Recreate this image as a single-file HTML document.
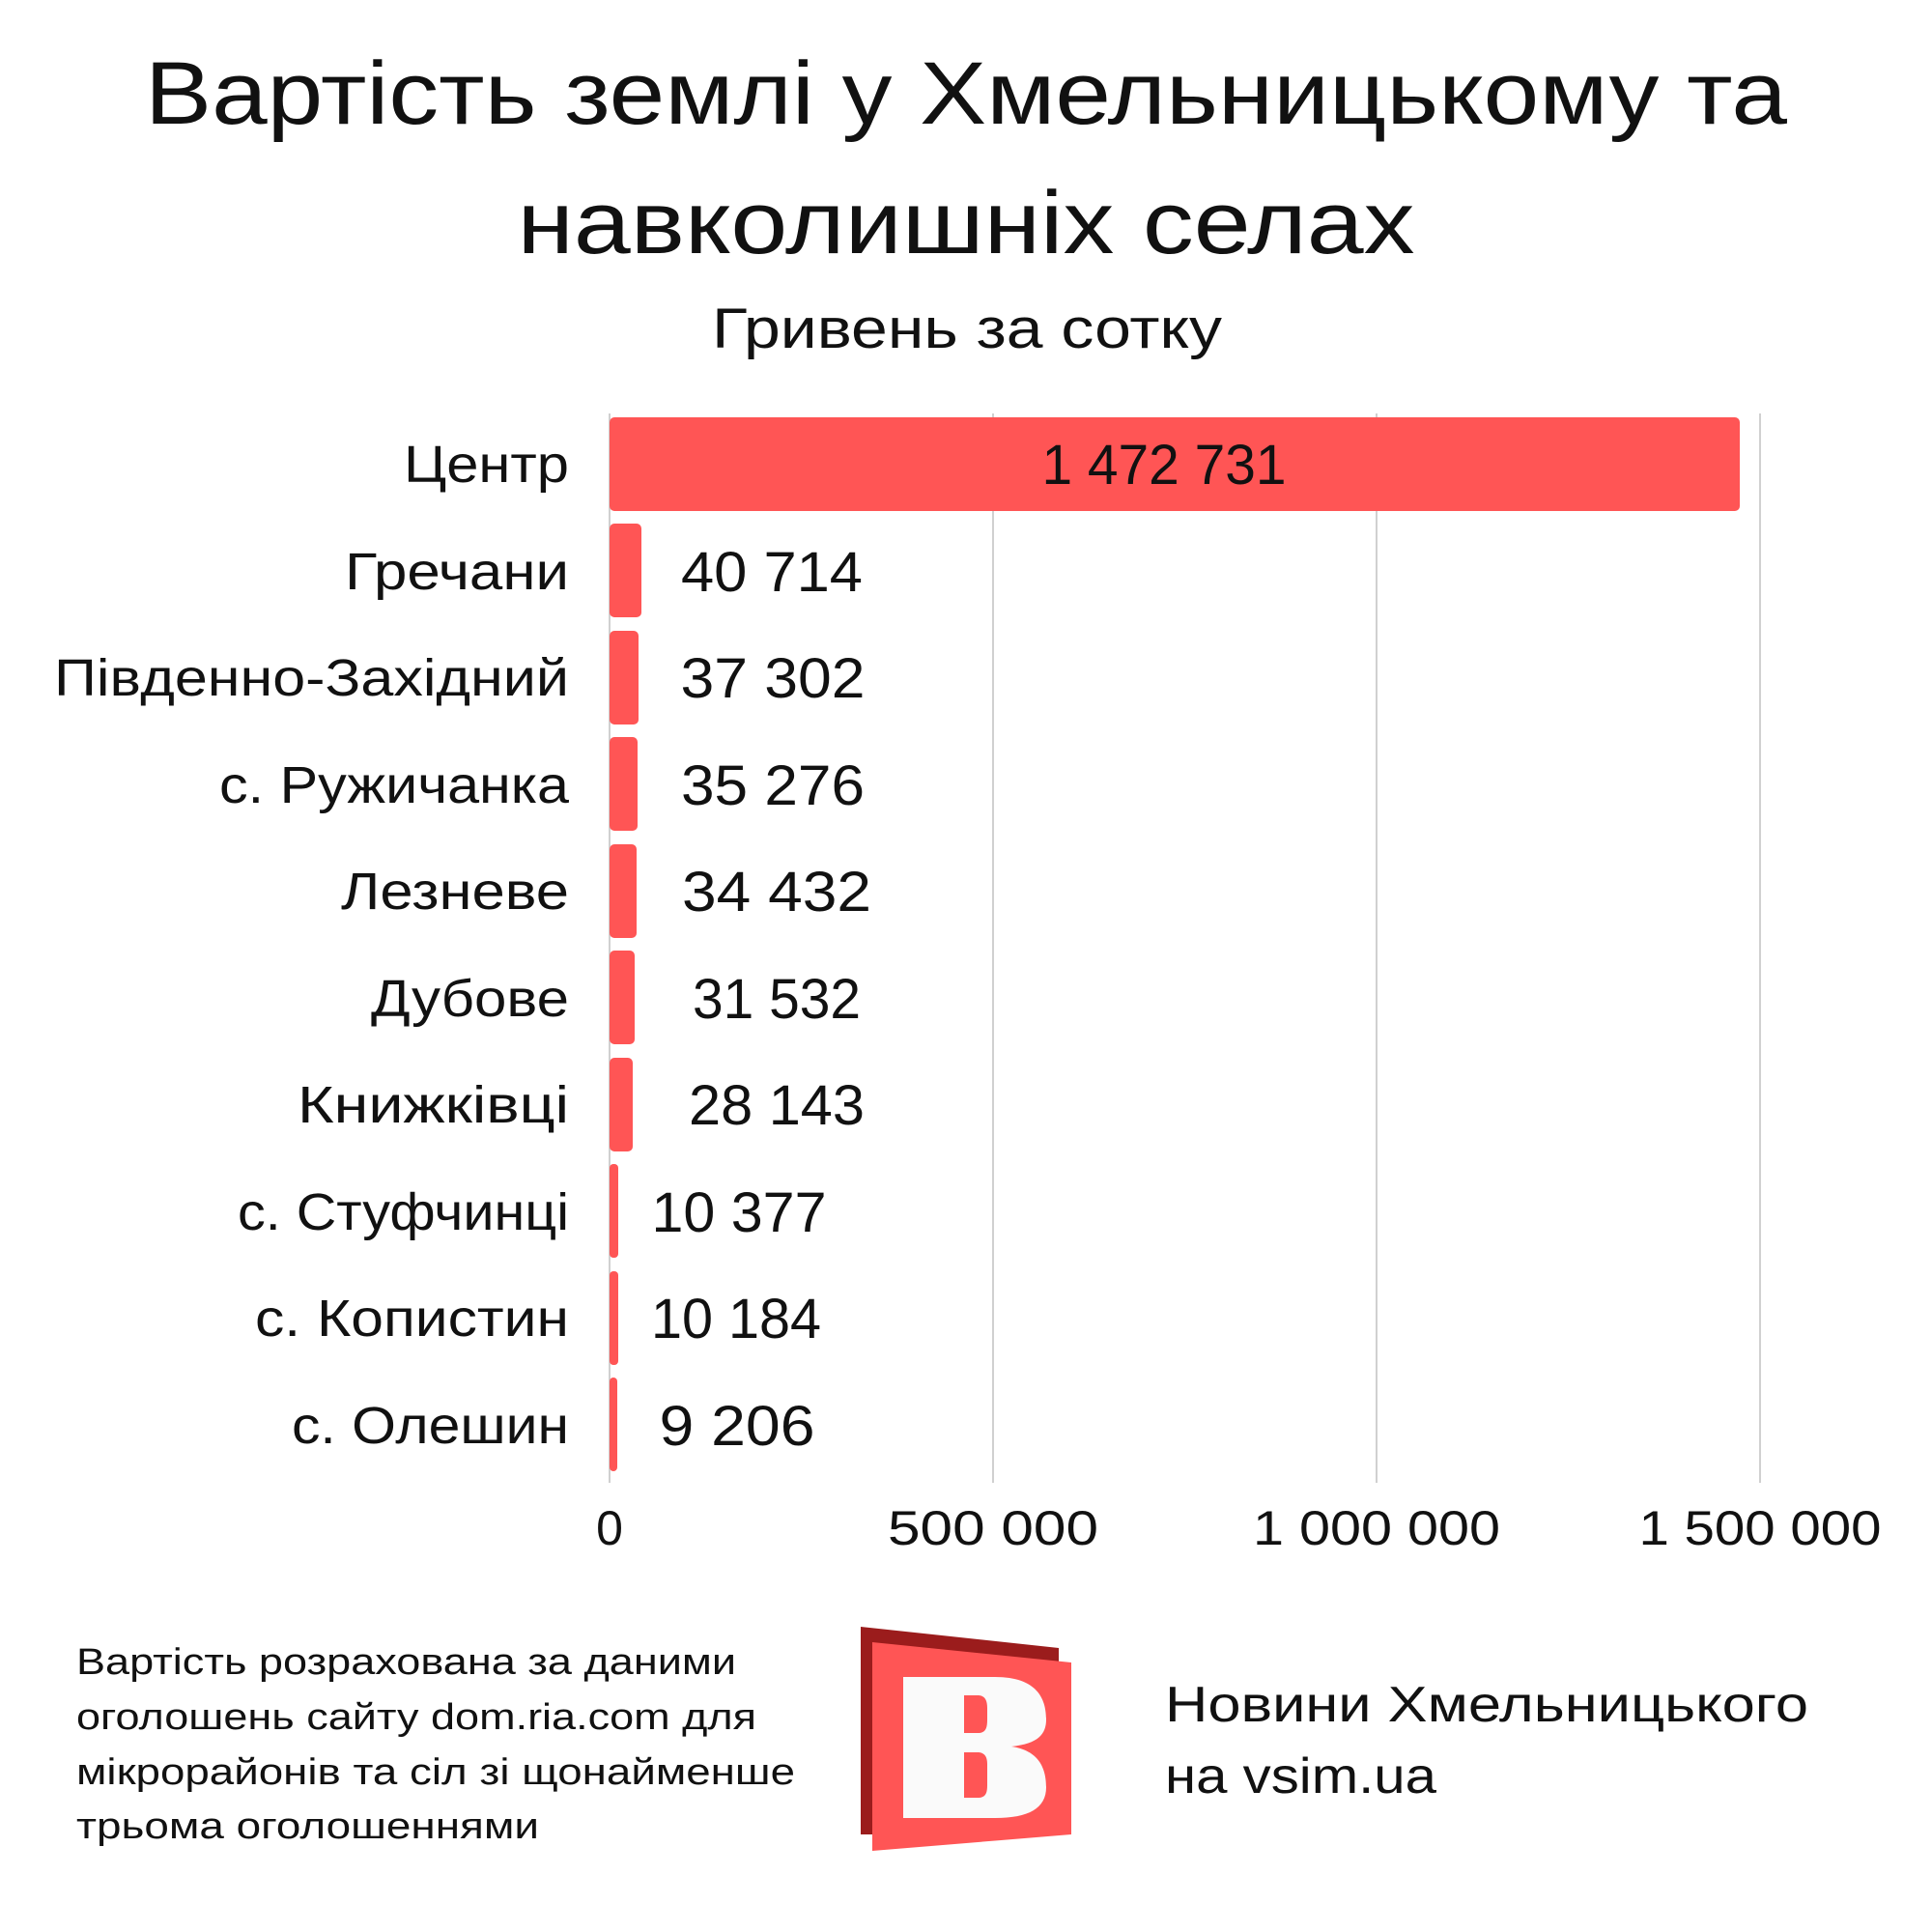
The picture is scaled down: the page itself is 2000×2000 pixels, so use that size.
<!DOCTYPE html>
<html><head><meta charset="utf-8"><style>body{margin:0;background:#fff}svg{display:block}</style></head>
<body>
<svg width="2000" height="2000" viewBox="0 0 2000 2000" xmlns="http://www.w3.org/2000/svg" font-family="Liberation Sans, sans-serif" fill="#111">
<text x="1000" y="128" font-size="92" text-anchor="middle" textLength="1700" lengthAdjust="spacingAndGlyphs">Вартість землі у Хмельницькому та</text>
<text x="1000" y="262" font-size="92" text-anchor="middle" textLength="929" lengthAdjust="spacingAndGlyphs">навколишніх селах</text>
<text x="1001" y="360" font-size="58" text-anchor="middle" textLength="528" lengthAdjust="spacingAndGlyphs">Гривень за сотку</text>
<g stroke="#d0d0d0" stroke-width="2">
<line x1="631" y1="428" x2="631" y2="1535"/>
<line x1="1028" y1="428" x2="1028" y2="1535"/>
<line x1="1425" y1="428" x2="1425" y2="1535"/>
<line x1="1822" y1="428" x2="1822" y2="1535"/>
</g>
<g fill="#ff5555">
<rect x="631" y="432" width="1170" height="97" rx="5"/>
<rect x="631" y="542" width="33" height="97" rx="5"/>
<rect x="631" y="653" width="30" height="97" rx="5"/>
<rect x="631" y="763" width="29" height="97" rx="5"/>
<rect x="631" y="874" width="28" height="97" rx="5"/>
<rect x="631" y="984" width="26" height="97" rx="5"/>
<rect x="631" y="1095" width="24" height="97" rx="5"/>
<rect x="631" y="1205" width="9" height="97" rx="4"/>
<rect x="631" y="1316" width="9" height="97" rx="4"/>
<rect x="631" y="1426" width="8" height="97" rx="4"/>
</g>
<g font-size="54" text-anchor="end" lengthAdjust="spacingAndGlyphs">
<text x="589" y="499" textLength="171" lengthAdjust="spacingAndGlyphs">Центр</text>
<text x="589" y="610" textLength="232" lengthAdjust="spacingAndGlyphs">Гречани</text>
<text x="589" y="720" textLength="533" lengthAdjust="spacingAndGlyphs">Південно-Західний</text>
<text x="589" y="831" textLength="362" lengthAdjust="spacingAndGlyphs">с. Ружичанка</text>
<text x="589" y="941" textLength="236" lengthAdjust="spacingAndGlyphs">Лезневе</text>
<text x="589" y="1052" textLength="205" lengthAdjust="spacingAndGlyphs">Дубове</text>
<text x="589" y="1162" textLength="281" lengthAdjust="spacingAndGlyphs">Книжківці</text>
<text x="589" y="1273" textLength="343" lengthAdjust="spacingAndGlyphs">с. Стуфчинці</text>
<text x="589" y="1383" textLength="325" lengthAdjust="spacingAndGlyphs">с. Копистин</text>
<text x="589" y="1494" textLength="287" lengthAdjust="spacingAndGlyphs">с. Олешин</text>
</g>
<g font-size="58" text-anchor="middle">
<text x="1205" y="501" textLength="253" lengthAdjust="spacingAndGlyphs">1 472 731</text>
<text x="799" y="612" textLength="188" lengthAdjust="spacingAndGlyphs">40 714</text>
<text x="800" y="722" textLength="191" lengthAdjust="spacingAndGlyphs">37 302</text>
<text x="800" y="833" textLength="190" lengthAdjust="spacingAndGlyphs">35 276</text>
<text x="804" y="943" textLength="196" lengthAdjust="spacingAndGlyphs">34 432</text>
<text x="804" y="1054" textLength="174" lengthAdjust="spacingAndGlyphs">31 532</text>
<text x="804" y="1164" textLength="182" lengthAdjust="spacingAndGlyphs">28 143</text>
<text x="765" y="1275" textLength="181" lengthAdjust="spacingAndGlyphs">10 377</text>
<text x="762" y="1385" textLength="176" lengthAdjust="spacingAndGlyphs">10 184</text>
<text x="763" y="1496" textLength="161" lengthAdjust="spacingAndGlyphs">9 206</text>
</g>
<g font-size="50" text-anchor="middle">
<text x="631" y="1599">0</text>
<text x="1028" y="1599" textLength="218" lengthAdjust="spacingAndGlyphs">500 000</text>
<text x="1425" y="1599" textLength="256" lengthAdjust="spacingAndGlyphs">1 000 000</text>
<text x="1822" y="1599" textLength="251" lengthAdjust="spacingAndGlyphs">1 500 000</text>
</g>
<g font-size="38">
<text x="79" y="1733" textLength="683" lengthAdjust="spacingAndGlyphs">Вартість розрахована за даними</text>
<text x="79" y="1790" textLength="704" lengthAdjust="spacingAndGlyphs">оголошень сайту dom.ria.com для</text>
<text x="79" y="1847" textLength="744" lengthAdjust="spacingAndGlyphs">мікрорайонів та сіл зі щонайменше</text>
<text x="79" y="1903" textLength="479" lengthAdjust="spacingAndGlyphs">трьома оголошеннями</text>
</g>
<g font-size="52">
<text x="1206" y="1782" textLength="666" lengthAdjust="spacingAndGlyphs">Новини Хмельницького</text>
<text x="1206" y="1856" textLength="281" lengthAdjust="spacingAndGlyphs">на vsim.ua</text>
</g>
<polygon points="891,1684 1096,1706 1096,1899 891,1899" fill="#9b1c1c"/>
<polygon points="903,1700 1109,1721 1109,1899 903,1916" fill="#ff5555"/>
<path d="M935,1736 H1030 C1075,1736 1083,1760 1083,1780 C1083,1795 1075,1805 1047,1808 C1075,1812 1083,1830 1083,1850 C1083,1872 1065,1882 1030,1882 H935 Z M998,1755 V1794 H1012 C1020,1794 1022,1790 1022,1780 V1768 C1022,1758 1018,1755 1012,1755 Z M998,1814 V1861 H1012 C1020,1861 1022,1857 1022,1848 V1826 C1022,1817 1018,1814 1012,1814 Z" fill="#fafafa" fill-rule="evenodd"/>
</svg>
</body></html>
